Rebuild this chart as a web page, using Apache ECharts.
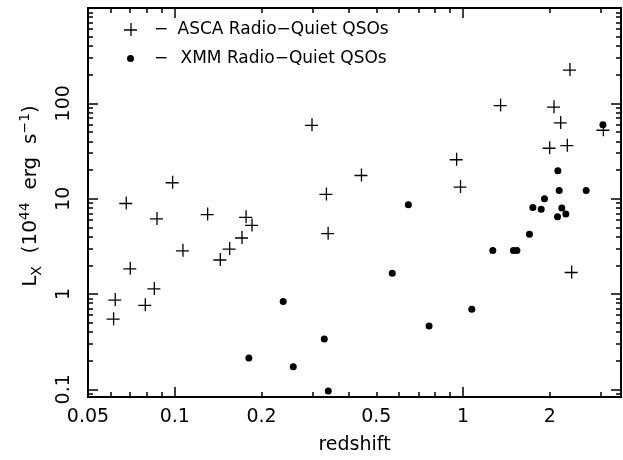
<!DOCTYPE html>
<html><head><meta charset="utf-8">
<script src="https://cdn.jsdelivr.net/npm/echarts@6/dist/echarts.min.js"></script>
<style>html,body{margin:0;padding:0;background:#fff}#c{width:623px;height:460px}</style>
</head><body><div id="c"></div>
<script>
// ---- data ----
const ascaName = 'ASCA Radio\u2212Quiet QSOs';
const xmmName = 'XMM Radio\u2212Quiet QSOs';
const ascaRedshift = [0.0611, 0.0619, 0.0676, 0.0698, 0.0787, 0.0846, 0.0864, 0.0979, 0.1063, 0.1295, 0.1433, 0.1544, 0.1704, 0.176, 0.1846, 0.298, 0.3344, 0.339, 0.4424, 0.946, 0.976, 1.344, 1.989, 2.059, 2.172, 2.29, 2.339, 2.371, 3.055];
const ascaLx       = [0.551, 0.873, 9.0, 1.857, 0.77, 1.143, 6.2, 14.85, 2.87, 6.88, 2.30, 2.99, 3.91, 6.45, 5.30, 59.5, 11.2, 4.34, 17.7, 25.9, 13.4, 95.8, 34.2, 92.2, 63.0, 36.4, 225.8, 1.70, 52.8];
const xmmRedshift = [0.1807, 0.2377, 0.2576, 0.33, 0.3407, 0.568, 0.646, 0.762, 1.072, 1.268, 1.495, 1.537, 1.699, 1.746, 1.866, 1.916, 2.126, 2.132, 2.155, 2.2, 2.272, 2.673, 3.055];
const xmmLx       = [0.213, 0.833, 0.172, 0.337, 0.096, 1.65, 8.65, 0.462, 0.693, 2.85, 2.85, 2.85, 4.23, 8.05, 7.75, 9.98, 6.45, 19.6, 12.2, 8.0, 6.88, 12.2, 59.5];
const xRange = [0.05, 3.53];
const yRange = [0.083, 1000];
const xTickLabels = [0.05, 0.1, 0.2, 0.5, 1, 2];
const xMajorTicks = [0.1, 1];
const xMinorTicks = [0.06, 0.07, 0.08, 0.09, 0.2, 0.3, 0.4, 0.5, 0.6, 0.7, 0.8, 0.9, 2, 3];
const yTickLabels = [0.1, 1, 10, 100];
const yMajorTicks = [0.1, 1, 10, 100];
const yMinorTicks = [0.09, 0.2, 0.3, 0.4, 0.5, 0.6, 0.7, 0.8, 0.9, 2, 3, 4, 5, 6, 7, 8, 9, 20, 30, 40, 50, 60, 70, 80, 90, 200, 300, 400, 500, 600, 700, 800, 900];

// ---- build option ----
const FONT = 'DejaVu Sans';
const plusPath = 'path://M0,6.35H13V7.65H0ZM6.35,0H7.65V13H6.35Z';
const dotIcon = 'path://M0,0M13,13M3,6.5A3.5,3.5,0,1,1,10,6.5A3.5,3.5,0,1,1,3,6.5Z';
const lg = Math.log10;

function nearestLabel(list, v) {
  let best = list[0];
  for (const t of list) if (Math.abs(lg(t) - v) < Math.abs(lg(best) - v)) best = t;
  return String(best);
}
function tickAxis(position, range, ticks, len, labels, labelOpt) {
  return {
    type: 'value', position: position, gridIndex: 0,
    min: lg(range[0]), max: lg(range[1]),
    axisLine: { show: false, onZero: false }, splitLine: { show: false },
    axisTick: { show: true, inside: true, length: len, customValues: ticks.map(lg),
      lineStyle: { color: '#000', width: 1.5 } },
    axisLabel: labels ? Object.assign({
      show: true, customValues: labels.map(lg),
      formatter: v => nearestLabel(labels, v),
      color: '#000', fontFamily: FONT, fontSize: 19
    }, labelOpt || {}) : { show: false }
  };
}
const hiddenLog = (range, pos) => ({
  type: 'log', logBase: 10, position: pos, min: range[0], max: range[1],
  axisLine: { show: false, onZero: false }, axisTick: { show: false }, axisLabel: { show: false }, splitLine: { show: false }
});

const option = {
  animation: false,
  backgroundColor: '#fff',
  grid: { left: 88, right: 2, top: 8, bottom: 57, show: true, borderColor: '#000', borderWidth: 2, containLabel: false },
  xAxis: [
    Object.assign(hiddenLog(xRange, 'bottom'), {
      name: 'redshift', nameLocation: 'middle', nameGap: 39,
      nameTextStyle: { color: '#000', fontFamily: FONT, fontSize: 19 }
    }),
    tickAxis('bottom', xRange, xMajorTicks, 10, xTickLabels, { margin: 11 }),
    tickAxis('bottom', xRange, xMinorTicks, 5, null),
    tickAxis('top', xRange, xMajorTicks, 10, null),
    tickAxis('top', xRange, xMinorTicks, 5, null)
  ],
  yAxis: [
    hiddenLog(yRange, 'left'),
    tickAxis('left', yRange, yMajorTicks, 10, yTickLabels, { rotate: 90, margin: 14 }),
    tickAxis('left', yRange, yMinorTicks, 5, null),
    tickAxis('right', yRange, yMajorTicks, 10, null),
    tickAxis('right', yRange, yMinorTicks, 5, null)
  ],
  legend: {
    orient: 'vertical', left: 124, top: 21, padding: 0, itemWidth: 13, itemHeight: 13, itemGap: 12,
    selectedMode: false,
    data: [ { name: ascaName, icon: plusPath }, { name: xmmName, icon: dotIcon } ],
    formatter: name => name === ascaName ? '{d1|\u2212}{t|' + name + '}' : '{d2|\u2212}{t|' + name + '}',
    textStyle: {
      color: '#000', fontFamily: FONT, fontSize: 17, lineHeight: 13,
      rich: {
        d1: { fontFamily: FONT, fontSize: 17, lineHeight: 13, width: 23.5, padding: [0, 0, 0, 12] },
        d2: { fontFamily: FONT, fontSize: 17, lineHeight: 13, width: 26.5, padding: [0, 0, 0, 12] },
        t: { fontFamily: FONT, fontSize: 17, lineHeight: 13 }
      }
    }
  },
  graphic: [{
    type: 'text', x: 31, y: 196, rotation: Math.PI / 2,
    style: {
      text: '{m|L}{s|X}{m|  (10}{p|44}{m|  erg  s}{p|\u22121}{m|)}',
      align: 'center', verticalAlign: 'middle', fill: '#000',
      rich: {
        m: { fontFamily: FONT, fontSize: 20, lineHeight: 26, fill: '#000' },
        s: { fontFamily: FONT, fontSize: 14, lineHeight: 14, verticalAlign: 'bottom', fill: '#000' },
        p: { fontFamily: FONT, fontSize: 14, lineHeight: 14, verticalAlign: 'top', fill: '#000' }
      }
    }
  }],
  series: [
    {
      name: ascaName, type: 'scatter', xAxisIndex: 0, yAxisIndex: 0,
      symbol: plusPath, symbolSize: 13, itemStyle: { color: '#000', opacity: 1 },
      data: ascaRedshift.map((z, i) => [z, ascaLx[i]])
    },
    {
      name: xmmName, type: 'scatter', xAxisIndex: 0, yAxisIndex: 0,
      symbol: 'circle', symbolSize: 7, itemStyle: { color: '#000', opacity: 1 },
      data: xmmRedshift.map((z, i) => [z, xmmLx[i]])
    }
  ]
};
const chart = echarts.init(document.getElementById('c'), null, { renderer: 'canvas' });
chart.setOption(option);
</script>
</body></html>
